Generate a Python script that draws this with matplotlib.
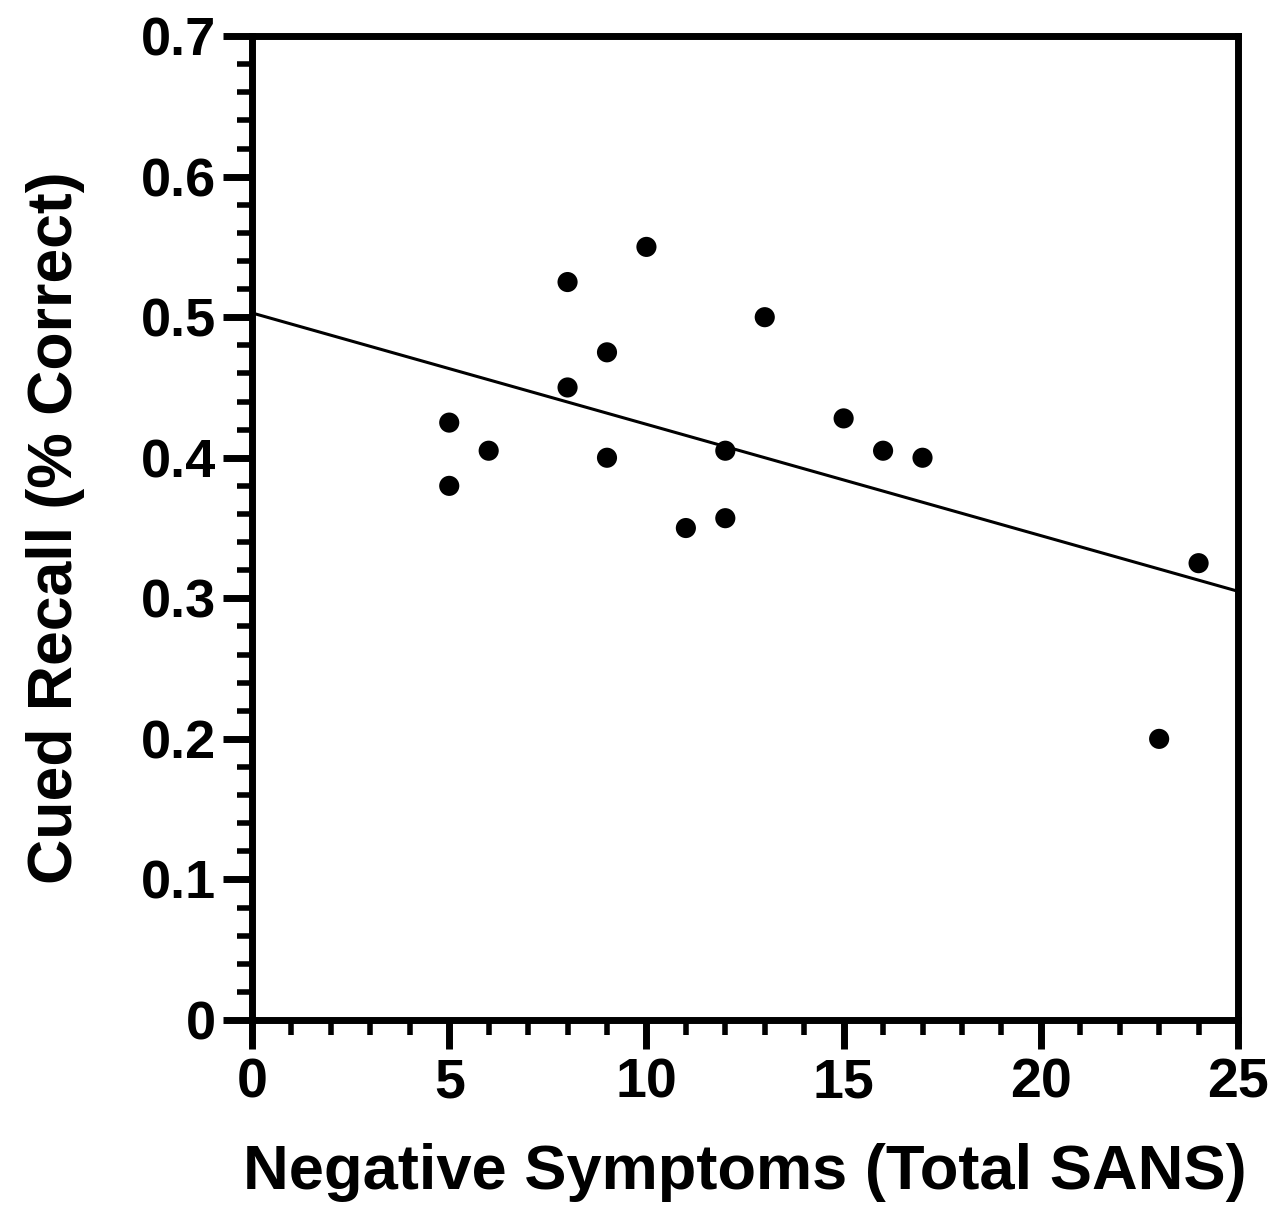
import matplotlib
matplotlib.use("Agg")
import matplotlib.pyplot as plt
import numpy as np
from matplotlib.ticker import MultipleLocator

# Scatter: negative symptoms (total SANS) vs cued recall
sans_total = [5, 5, 6, 8, 8, 9, 9, 10, 11, 12, 12, 13, 15, 16, 17, 23, 24]
cued_recall = [0.425, 0.380, 0.405, 0.525, 0.450, 0.475, 0.400, 0.550, 0.350,
               0.405, 0.357, 0.500, 0.428, 0.405, 0.400, 0.200, 0.325]

# Regression line
fit_x = [0, 25]
fit_y = [0.503, 0.305]

plt.rcParams["font.family"] = ["Liberation Sans", "DejaVu Sans"]
plt.rcParams["font.weight"] = "bold"

fig = plt.figure(figsize=(12.82, 12.14), dpi=100)
ax = fig.add_axes([0.1966, 0.1598, 0.7691, 0.8105])

ax.plot(fit_x, fit_y, color="black", lw=2.2, zorder=2)
ax.scatter(sans_total, cued_recall, s=210, color="black", edgecolor="none",
           zorder=3, clip_on=False)

ax.set_xlim(0, 25)
ax.set_ylim(0, 0.7)
ax.xaxis.set_major_locator(MultipleLocator(5))
ax.xaxis.set_minor_locator(MultipleLocator(1))
ax.yaxis.set_major_locator(MultipleLocator(0.1))
ax.yaxis.set_minor_locator(MultipleLocator(0.02))
ax.set_yticks(np.arange(0, 0.71, 0.1))
ax.set_yticklabels(["0"] + [f"{v:.1f}" for v in np.arange(0.1, 0.71, 0.1)])

for s in ax.spines.values():
    s.set_linewidth(5)
ax.tick_params(which="major", length=21, width=5, labelsize=39, pad=5)
ax.tick_params(axis="x", which="major", labelsize=40, pad=6)
ax.tick_params(which="minor", length=11, width=4)
for lab in ax.get_xticklabels() + ax.get_yticklabels():
    lab.set_fontweight("bold")

ax.set_xlabel("Negative Symptoms (Total SANS)", fontsize=45.5, fontweight="bold",
              labelpad=24)
ax.set_ylabel("Cued Recall (% Correct)", fontsize=45, fontweight="bold",
              labelpad=40)

fig.savefig("out.png", dpi=100)
